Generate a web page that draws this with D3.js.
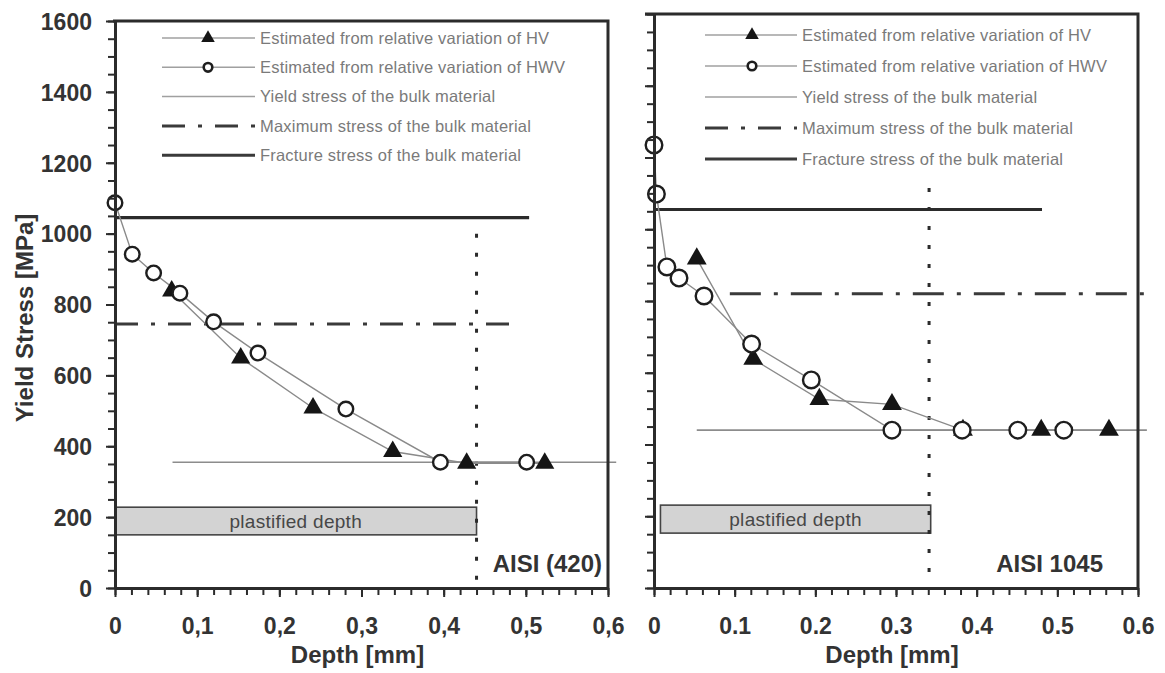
<!DOCTYPE html>
<html><head><meta charset="utf-8">
<script src="https://cdn.jsdelivr.net/npm/d3@7"></script>
<style>
body{margin:0;background:#fff}
svg{display:block;background:#fff}
text{font-family:"Liberation Sans", Arial, Helvetica, sans-serif}
</style>
</head><body>
<svg id="chart" width="1165" height="673"></svg>
<script>
// ---------- shared axis data ----------
const yTickValues = [0, 200, 400, 600, 800, 1000, 1200, 1400, 1600];
const yTickLabels = ["0", "200", "400", "600", "800", "1000", "1200", "1400", "1600"];
const xTickValues = [0, 0.1, 0.2, 0.3, 0.4, 0.5, 0.6];
const xTickLabelsLeft = ["0", "0,1", "0,2", "0,3", "0,4", "0,5", "0,6"];
const xTickLabelsRight = ["0", "0.1", "0.2", "0.3", "0.4", "0.5", "0.6"];
const legendLabels = [
  "Estimated from relative variation of HV",
  "Estimated from relative variation of HWV",
  "Yield stress of the bulk material",
  "Maximum stress of the bulk material",
  "Fracture stress of the bulk material"
];

// ---------- left panel: AISI (420) ----------
const leftHVDepth = [0.069, 0.153, 0.241, 0.338, 0.428, 0.523];
const leftHVStress = [838, 649, 508, 385, 352, 352];
const leftHWVDepth = [0, 0.021, 0.047, 0.079, 0.120, 0.174, 0.281, 0.396, 0.501];
const leftHWVStress = [1087, 942, 889, 832, 751, 663, 505, 355, 355];
const leftRefStress = [355, 745, 1045];   // yield, maximum, fracture
const leftRefFrom = [0.07, 0, 0];
const leftRefTo = [0.61, 0.49, 0.504];
const leftPlastDepth = 0.44;
const leftPlastTop = 1000;
const leftBoxStress = [150, 228];
const leftBoxDepth = [0, 0.44];

// ---------- right panel: AISI 1045 ----------
const rightHVDepth = [0.053, 0.123, 0.205, 0.295, 0.383, 0.480, 0.564];
const rightHVStress = [918, 638, 526, 512, 440, 440, 440];
const rightHWVDepth = [0, 0.003, 0.016, 0.031, 0.062, 0.121, 0.195, 0.295, 0.382, 0.451, 0.508];
const rightHWVStress = [1235, 1098, 895, 864, 814, 680, 580, 440, 440, 440, 440];
const rightRefStress = [440, 820, 1055];
const rightRefFrom = [0.053, 0.094, 0];
const rightRefTo = [0.611, 0.611, 0.481];
const rightPlastDepth = 0.341;
const rightPlastTop = 1115;
const rightBoxStress = [153, 231];
const rightBoxDepth = [0.008, 0.343];

const svg = d3.select("#chart");
const zip = (a, b) => a.map((v, i) => [v, b[i]]);

const panels = [
  {
    xRange: [115, 608], yRange: [588, 21],
    hv: zip(leftHVDepth, leftHVStress), hwv: zip(leftHWVDepth, leftHWVStress),
    refStress: leftRefStress, refFrom: leftRefFrom, refTo: leftRefTo,
    plast: leftPlastDepth, plastTop: leftPlastTop, boxStress: leftBoxStress, boxDepth: leftBoxDepth,
    xLabels: xTickLabelsLeft, showY: true, name: "AISI (420)", nameRight: 602,
    legend: {y0: 38, dy: 29.3, x1: 162, x2: 255, xm: 208, xt: 260},
    circleR: 7.3, triSize: 160, dash: "23,13,4,13", frameLeft: 2
  },
  {
    xRange: [654, 1138], yRange: [588, 14],
    hv: zip(rightHVDepth, rightHVStress), hwv: zip(rightHWVDepth, rightHWVStress),
    refStress: rightRefStress, refFrom: rightRefFrom, refTo: rightRefTo,
    plast: rightPlastDepth, plastTop: rightPlastTop, boxStress: rightBoxStress, boxDepth: rightBoxDepth,
    xLabels: xTickLabelsRight, showY: false, name: "AISI 1045", nameRight: 1103,
    legend: {y0: 35, dy: 31, x1: 705, x2: 797, xm: 752, xt: 802},
    circleR: 8.3, triSize: 170, dash: "31,13,4,13", frameLeft: 9
  }
];

const ink = "#2b2b2b";
const legendDash = "23,13,4,13";

panels.forEach(p => {
  const x = d3.scaleLinear().domain([0, 0.6]).range(p.xRange);
  const y = d3.scaleLinear().domain([0, 1600]).range(p.yRange);
  const g = svg.append("g");

  // reference lines
  const refStyles = [
    {stroke: "#8c8c8c", w: 1.6, dash: null},
    {stroke: "#3a3a3a", w: 3, dash: p.dash},
    {stroke: ink, w: 3.2, dash: null}
  ];
  p.refStress.forEach((s, i) => {
    g.append("line")
      .attr("x1", x(p.refFrom[i])).attr("x2", x(p.refTo[i]))
      .attr("y1", y(s)).attr("y2", y(s))
      .attr("stroke", refStyles[i].stroke).attr("stroke-width", refStyles[i].w)
      .attr("stroke-dasharray", refStyles[i].dash);
  });

  // plastified depth box
  const bx = x(p.boxDepth[0]), bw = x(p.boxDepth[1]) - x(p.boxDepth[0]);
  const by = y(p.boxStress[1]), bh = y(p.boxStress[0]) - y(p.boxStress[1]);
  g.append("rect").attr("x", bx).attr("y", by).attr("width", bw).attr("height", bh)
    .attr("fill", "#d3d3d3").attr("stroke", "#444").attr("stroke-width", 1.6);
  g.append("text").attr("x", bx + bw / 2).attr("y", by + bh / 2).attr("dy", "0.35em")
    .attr("text-anchor", "middle").attr("font-size", 19).attr("letter-spacing", 0.3)
    .attr("fill", "#474747").text("plastified depth");

  // dotted vertical line
  g.append("line").attr("x1", x(p.plast)).attr("x2", x(p.plast))
    .attr("y1", y(p.plastTop)).attr("y2", y(0))
    .attr("stroke", ink).attr("stroke-width", 3).attr("stroke-dasharray", "4,15");

  // data lines
  const line = d3.line().x(d => x(d[0])).y(d => y(d[1]));
  g.append("path").datum(p.hv).attr("d", line).attr("fill", "none")
    .attr("stroke", "#8a8a8a").attr("stroke-width", 1.4);
  g.append("path").datum(p.hwv).attr("d", line).attr("fill", "none")
    .attr("stroke", "#8a8a8a").attr("stroke-width", 1.4);

  // markers
  const tri = d3.symbol().type(d3.symbolTriangle).size(p.triSize);
  g.selectAll(".tri").data(p.hv).join("path")
    .attr("transform", d => `translate(${x(d[0])},${y(d[1])})`)
    .attr("d", tri).attr("fill", "#151515");
  g.selectAll(".circ").data(p.hwv).join("circle")
    .attr("cx", d => x(d[0])).attr("cy", d => y(d[1])).attr("r", p.circleR)
    .attr("fill", "#fff").attr("stroke", "#1e1e1e").attr("stroke-width", 2.4);

  // legend
  const L = p.legend;
  legendLabels.forEach((lab, i) => {
    const ly = L.y0 + i * L.dy;
    const dark = i >= 3;
    g.append("line").attr("x1", L.x1).attr("x2", L.x2).attr("y1", ly).attr("y2", ly)
      .attr("stroke", dark ? "#3a3a3a" : "#a0a0a0").attr("stroke-width", dark ? 3 : 1.5)
      .attr("stroke-dasharray", i === 3 ? legendDash : null);
    if (i === 0) {
      g.append("path").attr("transform", `translate(${L.xm},${ly})`)
        .attr("d", d3.symbol().type(d3.symbolTriangle).size(80)).attr("fill", "#151515");
    }
    if (i === 1) {
      g.append("circle").attr("cx", L.xm).attr("cy", ly).attr("r", 4.3)
        .attr("fill", "#fff").attr("stroke", "#1e1e1e").attr("stroke-width", 2.6);
    }
    g.append("text").attr("x", L.xt).attr("y", ly).attr("dy", "0.35em")
      .attr("font-size", 16.5).attr("letter-spacing", 0.2).attr("fill", "#7a7a7a").text(lab);
  });

  // axes
  const styleAxis = sel => {
    sel.select(".domain").attr("stroke", ink).attr("stroke-width", 3);
    sel.selectAll(".tick line").attr("stroke", ink).attr("stroke-width", 2);
    sel.selectAll(".tick text").attr("font-size", 23).attr("font-weight", "bold")
      .attr("fill", "#333").attr("font-family", '"Liberation Sans", Arial, sans-serif');
  };
  const xMinor = g.append("g").attr("transform", `translate(0,${y(0)})`)
    .call(d3.axisBottom(x).tickValues(d3.range(0, 0.6001, 0.02)).tickSize(7).tickFormat("").tickSizeOuter(0));
  styleAxis(xMinor);
  const xMajor = g.append("g").attr("transform", `translate(0,${y(0)})`)
    .call(d3.axisBottom(x).tickValues(xTickValues).tickSize(9).tickPadding(21)
      .tickFormat((d, i) => p.xLabels[i]).tickSizeOuter(0));
  styleAxis(xMajor);
  const yMinor = g.append("g").attr("transform", `translate(${x(0)},0)`)
    .call(d3.axisLeft(y).tickValues(d3.range(0, 1601, 50)).tickSize(7).tickFormat("").tickSizeOuter(0));
  styleAxis(yMinor);
  const yMajor = g.append("g").attr("transform", `translate(${x(0)},0)`)
    .call(d3.axisLeft(y).tickValues(yTickValues).tickSize(9).tickPadding(14)
      .tickFormat((d, i) => p.showY ? yTickLabels[i] : "").tickSizeOuter(0));
  styleAxis(yMajor);
  yMajor.selectAll(".tick text").attr("dy", "0.36em");

  // frame (top and right)
  g.append("path")
    .attr("d", `M${x(0) - p.frameLeft},${y(1600)}H${x(0.6)}V${y(0)}`)
    .attr("fill", "none").attr("stroke", ink).attr("stroke-width", 3);

  // titles
  g.append("text").attr("x", (p.xRange[0] + p.xRange[1]) / 2 - 4).attr("y", 663)
    .attr("text-anchor", "middle").attr("font-size", 24).attr("font-weight", "bold")
    .attr("fill", "#333").text("Depth [mm]");
  g.append("text").attr("x", p.nameRight).attr("y", 572)
    .attr("text-anchor", "end").attr("font-size", 24).attr("font-weight", "bold")
    .attr("fill", "#333").text(p.name);
  if (p.showY) {
    g.append("text").attr("transform", "translate(33,318) rotate(-90)")
      .attr("text-anchor", "middle").attr("font-size", 24).attr("font-weight", "bold")
      .attr("fill", "#333").text("Yield Stress [MPa]");
  }
});
</script>
</body></html>
